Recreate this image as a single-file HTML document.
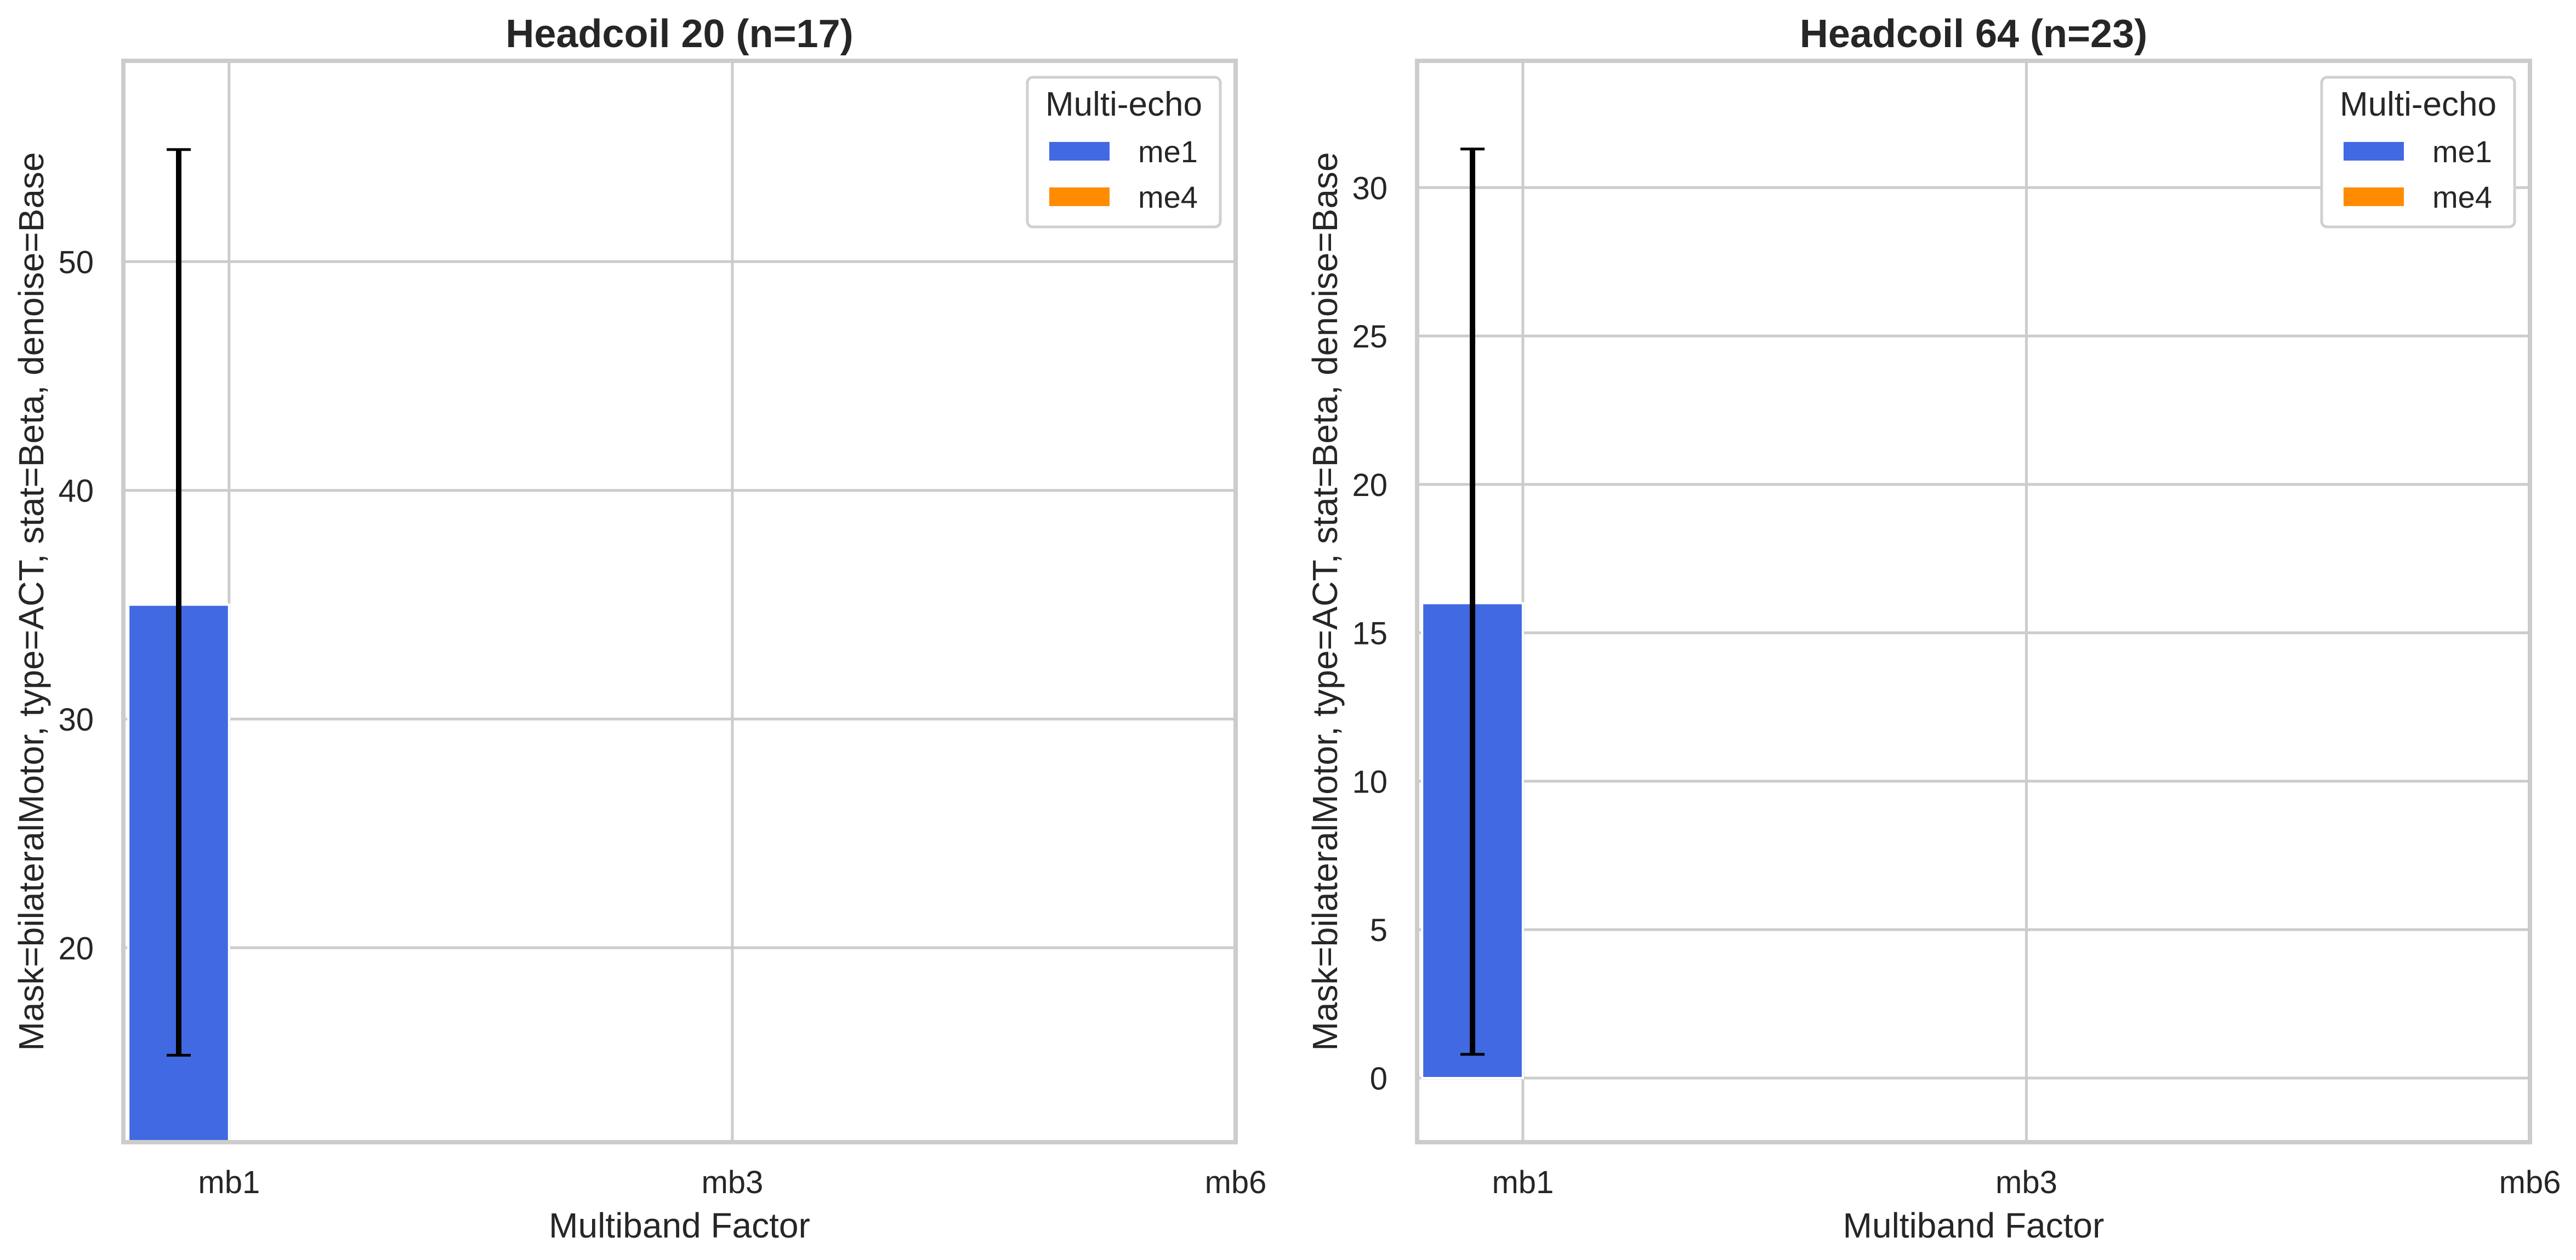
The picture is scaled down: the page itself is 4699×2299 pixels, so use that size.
<!DOCTYPE html>
<html><head><meta charset="utf-8"><style>
html,body{margin:0;padding:0;background:#fff;}
svg{display:block;font-family:"Liberation Sans",Arial,sans-serif;}
</style></head><body>
<svg id="chart" width="4699" height="2299" viewBox="0 0 4699 2299" xmlns="http://www.w3.org/2000/svg"></svg>
<script>
const categories = ["mb1","mb3","mb6"];
const seriesNames = ["me1","me4"];
const panelTitles = ["Headcoil 20 (n=17)","Headcoil 64 (n=23)"];
const me1Values = [35.0, 16.0];
const me1ErrLow = [15.3, 0.8];
const me1ErrHigh = [54.9, 31.3];
const yTicksLeft = [20,30,40,50];
const yTicksRight = [0,5,10,15,20,25,30];
const yDomains = [[11.5,58.78],[-2.16,34.27]];

const svg = document.getElementById('chart');
const NS = "http://www.w3.org/2000/svg";
function mk(tag, attrs, parent){const e=document.createElementNS(NS,tag);for(const k in attrs)e.setAttribute(k,attrs[k]);(parent||svg).appendChild(e);return e;}
const panels = [
  {x0:225,x1:2254,ticks:yTicksLeft},
  {x0:2585,x1:4615,ticks:yTicksRight}
];
const axTop=111, axBot=2084;
const colors = ["#4169e1","#ff8c00"];
panels.forEach((p,i)=>{
  const g = mk('g',{});
  
  
  const [d0,d1]=yDomains[i];
  const y = v => axBot - (v-d0)/(d1-d0)*(axBot-axTop);
  const step = (p.x1-p.x0)/2.21;
  const x = c => p.x0 + (c+0.21)*step;
  p.ticks.forEach(t=>{
    const l=mk('line',{x1:p.x0,x2:p.x1,y1:y(t),y2:y(t),stroke:'#cccccc','stroke-width':5},g);
    
    
    const tx=mk('text',{x:p.x0-54,y:y(t)+21,'text-anchor':'end','font-size':58,fill:'#262626'},g);
    tx.textContent=t;
    
    
  });
  categories.forEach((c,ci)=>{
    const l=mk('line',{x1:x(ci),x2:x(ci),y1:axTop,y2:axBot,stroke:'#cccccc','stroke-width':5},g);
    
    
    const tx=mk('text',{x:x(ci),y:2177,'text-anchor':'middle','font-size':58,fill:'#262626'},g);
    tx.textContent=c;
    
    
  });
  const bw = 0.2*step;
  const bx = x(0)-bw;
  const by = y(me1Values[i]);
  const base = Math.min(axBot, y(Math.max(0,d0)));
  const bar=mk('rect',{x:bx,y:by,width:bw,height:Math.max(0,base-by),fill:colors[0],stroke:'#fff','stroke-width':4},g);
  
  
  const cx = x(0)-bw/2;
  const e=mk('line',{x1:cx,x2:cx,y1:y(me1ErrHigh[i]),y2:y(me1ErrLow[i]),stroke:'#000','stroke-width':10},g);
  
  
  [me1ErrHigh[i],me1ErrLow[i]].forEach(v=>{
    const c=mk('line',{x1:cx-22,x2:cx+22,y1:y(v),y2:y(v),stroke:'#000','stroke-width':5},g);
    
    
  });
  const fr=mk('rect',{x:p.x0,y:axTop,width:p.x1-p.x0,height:axBot-axTop,fill:'none',stroke:'#cccccc','stroke-width':8},g);
  
  
  const cxm=(p.x0+p.x1)/2;
  const t=mk('text',{x:cxm,y:86,'text-anchor':'middle','font-size':72,'font-weight':'bold',fill:'#262626'},g);
  t.textContent=panelTitles[i];
  
  
  const xl=mk('text',{x:cxm,y:2258,'text-anchor':'middle','font-size':64,fill:'#262626'},g);
  xl.textContent='Multiband Factor';
  
  
  const ylx=p.x0-146;
  const ymid=(axTop+axBot)/2;
  const yl=mk('text',{x:ylx,y:ymid,'text-anchor':'middle','font-size':64,fill:'#262626',transform:`rotate(-90 ${ylx} ${ymid})`},g);
  yl.textContent='Mask=bilateralMotor, type=ACT, stat=Beta, denoise=Base';
  
  
  const lx=p.x1-380, ly=141;
  const lg=mk('g',{},g);
  
  
  mk('rect',{x:lx,y:ly,width:352,height:273,rx:10,fill:'#fff',stroke:'#d0d0d0','stroke-width':5},lg);
  const lt=mk('text',{x:lx+176,y:ly+70,'text-anchor':'middle','font-size':62,fill:'#262626'},lg);
  lt.textContent='Multi-echo';
  
  
  seriesNames.forEach((s,si)=>{
    const yy=ly+118+si*83;
    const r=mk('rect',{x:lx+40,y:yy,width:110,height:34,fill:colors[si]},lg);
    
    
    const tt=mk('text',{x:lx+202,y:yy+37,'font-size':56,fill:'#262626'},lg);
    tt.textContent=s;
    
    
  });
});
</script>
</body></html>
